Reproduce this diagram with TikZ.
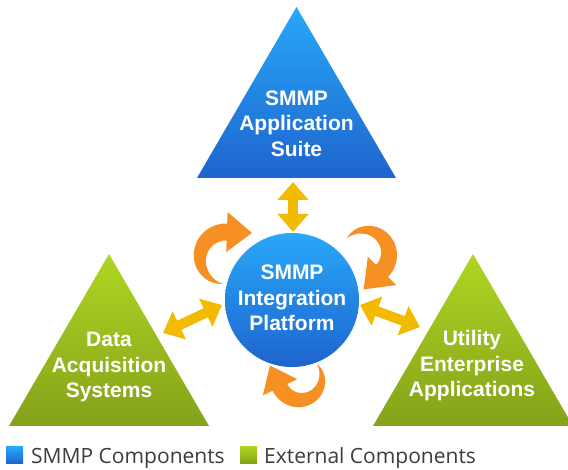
\documentclass[tikz,border=0pt]{standalone}
\usepackage{fontspec}
\setmainfont{Liberation Sans}
\newfontfamily\legfont{Open Sans}
\usetikzlibrary{arrows.meta}
\definecolor{bluetop}{RGB}{40,168,248}
\definecolor{bluebot}{RGB}{30,100,206}
\definecolor{greentop}{RGB}{174,214,34}
\definecolor{greenbot}{RGB}{132,162,26}
\definecolor{orangec}{RGB}{246,144,34}
\definecolor{yellowc}{RGB}{242,186,0}
\definecolor{legtext}{RGB}{60,60,60}
\tikzset{
  bluefill/.style={top color=bluetop, bottom color=bluebot},
  greenfill/.style={top color=greentop, bottom color=greenbot},
  label/.style={text=white, align=center, font=\fontsize{21}{25.5}\selectfont\bfseries, inner sep=0pt},
  yarr/.style={draw=yellowc, line width=10pt, {Triangle[length=18pt,width=30pt]}-{Triangle[length=18pt,width=30pt]}},
  orarr/.style={fill=orangec},
  legsq/.style={minimum size=17pt, inner sep=0pt, outer sep=0pt},
  legtxt/.style={text=legtext, font=\legfont\fontsize{21}{25}\selectfont, inner sep=0pt, anchor=base west}
}
% curved tapered arrow: cx cy R a1 a2 w hw hl (screen angles, y down)
\newcommand\orarrow[8]{%
  \pgfmathsetmacro\obx{#1+#3*cos(#5)}%
  \pgfmathsetmacro\oby{#2+#3*sin(#5)}%
  \pgfmathsetmacro\onx{cos(#5)}%
  \pgfmathsetmacro\ony{sin(#5)}%
  \pgfmathsetmacro\otx{-sin(#5)}%
  \pgfmathsetmacro\oty{cos(#5)}%
  \fill[orarr] plot[domain=0:1, samples=50, variable=\t]
      ({#1+(#3+#6*(2*\t-\t*\t)/2)*cos(#4+(#5-#4)*\t)}, {#2+(#3+#6*(2*\t-\t*\t)/2)*sin(#4+(#5-#4)*\t)})
    -- ({\obx+#7/2*\onx}, {\oby+#7/2*\ony})
    -- ({\obx+#8*\otx}, {\oby+#8*\oty})
    -- ({\obx-#7/2*\onx}, {\oby-#7/2*\ony})
    -- plot[domain=1:0, samples=50, variable=\t]
      ({#1+(#3-#6*(2*\t-\t*\t)/2)*cos(#4+(#5-#4)*\t)}, {#2+(#3-#6*(2*\t-\t*\t)/2)*sin(#4+(#5-#4)*\t)})
    -- cycle;}
\begin{document}
\begin{tikzpicture}[x=1pt, y=-1pt]
\useasboundingbox (0,0) rectangle (568,470);
% triangles
\shade[bluefill] (296.5,7) -- (396,178) -- (197,178) -- cycle;
\shade[greenfill] (109,254) -- (209,426) -- (9,426) -- cycle;
\shade[greenfill] (473,254) -- (573,426) -- (373,426) -- cycle;
\node[label] (app) at (296.5,123.7) {SMMP\\Application\\Suite};
\node[label] (daq) at (109,367) {Data\\Acquisition\\Systems};
\node[label] (uea) at (472,366) {Utility\\Enterprise\\Applications};
% orange circulating arrows
\orarrow{226}{258}{26}{98}{272}{17}{40}{25}
\orarrow{365}{254}{24}{221}{405}{17}{40}{26}
\orarrow{300}{378}{22}{-39}{155}{16}{38}{24}
% platform
\node[circle, minimum size=134pt, inner sep=0pt, bluefill] (plat) at (292,300) {};
\node[label] (platlbl) at (292,298) {SMMP\\Integration\\Platform};
% yellow connectors
\coordinate (t1) at (293,182); \coordinate (t2) at (293,232);
\coordinate (l1) at (163,333); \coordinate (l2) at (222,305);
\coordinate (r1) at (360,305); \coordinate (r2) at (420,327);
\draw[yarr] (t1) -- (t2);
\draw[yarr] (l1) -- (l2);
\draw[yarr] (r1) -- (r2);
% legend
\node[legsq, bluefill] (sq1) at (14.5,455) {};
\node[legtxt] (lg1) at (31,463) {SMMP Components};
\node[legsq, greenfill] (sq2) at (248.5,455) {};
\node[legtxt] (lg2) at (264,463) {External Components};
\end{tikzpicture}
\end{document}
